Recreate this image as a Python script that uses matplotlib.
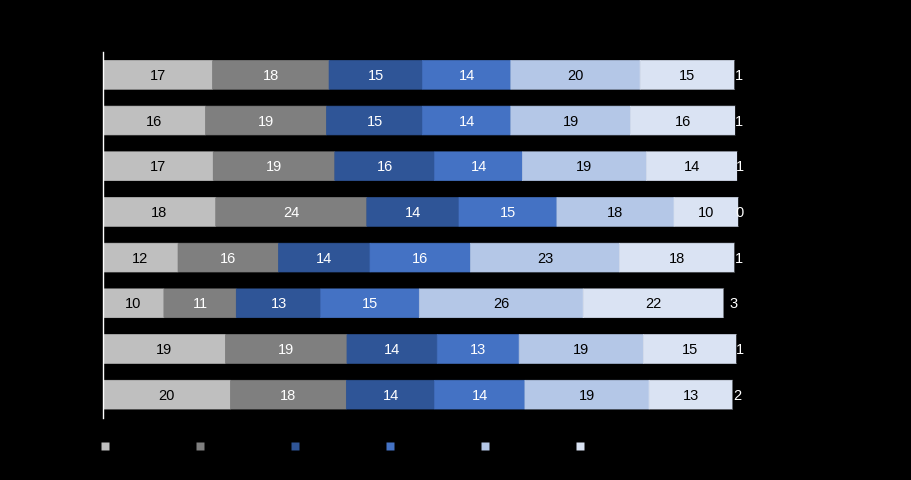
import matplotlib
matplotlib.use("Agg")
import matplotlib.pyplot as plt
from matplotlib.lines import Line2D
import numpy as np

plt.rcParams['font.family'] = ['Liberation Sans', 'DejaVu Sans']

rows = ["R1", "R2", "R3", "R4", "R5", "R6", "R7", "R8"]
s1 = [17.2, 16.1, 17.3, 17.7, 11.8, 9.6, 19.2, 20.0]
s2 = [18.2, 18.9, 19.0, 23.6, 15.7, 11.3, 19.0, 18.1]
s3 = [14.6, 15.0, 15.6, 14.4, 14.3, 13.2, 14.1, 13.8]
s4 = [13.8, 13.8, 13.7, 15.3, 15.7, 15.4, 12.8, 14.1]
s5 = [20.2, 18.7, 19.4, 18.3, 23.3, 25.6, 19.4, 19.4]
s6 = [14.8, 16.4, 14.2, 10.1, 18.0, 22.0, 14.6, 13.1]
s7 = [1.2, 1.1, 0.8, 0.4, 1.2, 2.9, 0.9, 1.6]

series = [s1, s2, s3, s4, s5, s6, s7]
colors = ['#BFBFBF', '#7F7F7F', '#2F5597', '#4472C4', '#B4C7E7', '#DAE3F3', '#000000']
txtcolors = ['black', 'white', 'white', 'white', 'black', 'black', 'white']

fig = plt.figure(figsize=(9.11, 4.81), dpi=100)
fig.patch.set_facecolor('black')
ax = fig.add_axes([102.5/911, (481-418.5)/481, (742.5-102.5)/911, (418.5-53)/481])
ax.set_facecolor('black')

y = np.arange(len(rows))
left = np.zeros(len(rows))
for vals, c, tc in zip(series, colors, txtcolors):
    vals = np.array(vals)
    bars = ax.barh(y, vals, left=left, height=0.63, color=c, edgecolor=c,
                   linewidth=0.5)
    for b in bars:
        b.set_snap(False)
    ax.bar_label(bars, labels=[f"{v:.0f}" for v in vals], label_type='center',
                 color=tc, fontsize=10.5)
    left += vals

ax.set_xlim(0, 100)
ax.set_ylim(len(rows) - 0.5, -0.5)
ax.set_yticks(y)
ax.set_yticklabels(rows, color='black')
ax.tick_params(axis='y', which='major', length=0)
ax.set_yticks(np.arange(-0.5, len(rows), 1.0), minor=True)
ax.tick_params(axis='y', which='minor', length=4, color='black', width=0.8)
ax.set_xticks([])
for s in ['top', 'right', 'bottom']:
    ax.spines[s].set_visible(False)
ax.spines['left'].set_color('white')
ax.spines['left'].set_linewidth(1)
ax.spines['left'].set_zorder(5)

handles = [Line2D([], [], marker='s', linestyle='none', markersize=5.2,
                  markerfacecolor=c, markeredgecolor='none') for c in colors[:6]]
leg = fig.legend(handles, [""] * 6, ncol=6, loc='center left',
                 bbox_to_anchor=(100.5/911, 1 - 447.5/481), frameon=False,
                 handlelength=0.6, handletextpad=0.0, columnspacing=6.25,
                 borderaxespad=0, borderpad=0, fontsize=10)

fig.savefig('out.png', dpi=100, facecolor='black')
